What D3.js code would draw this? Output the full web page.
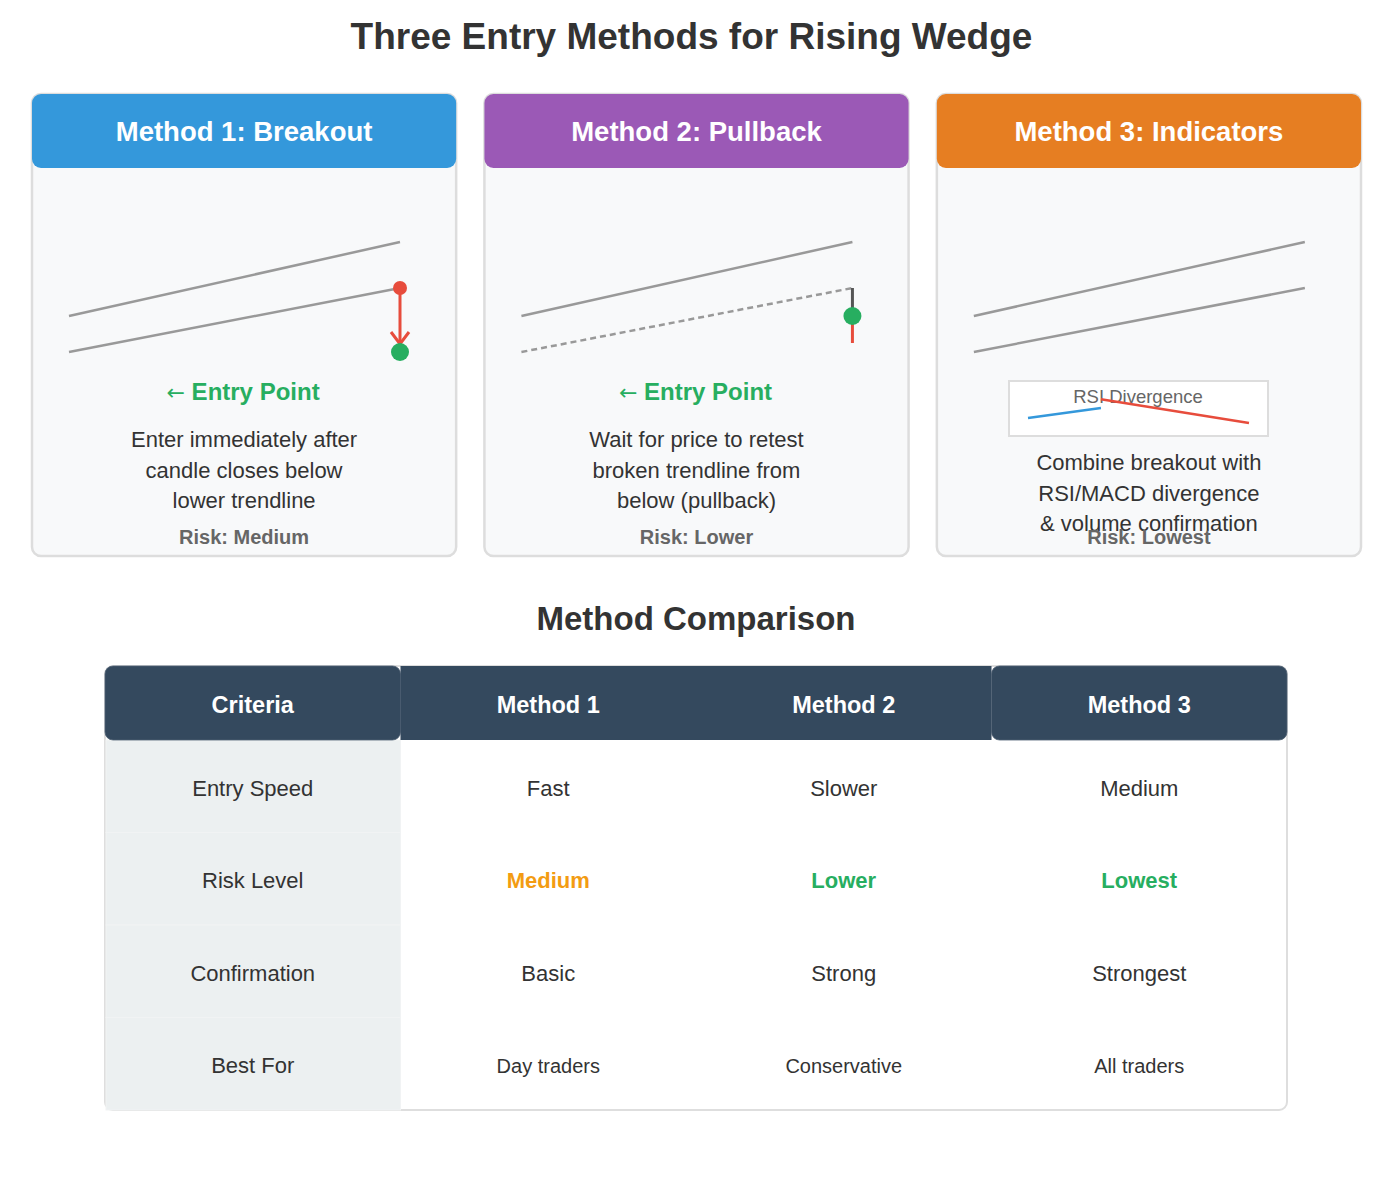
<!DOCTYPE html>
<html>
<head>
<meta charset="utf-8">
<script src="https://cdn.jsdelivr.net/npm/d3@7"></script>
<style>
  body { margin: 0; background: #fff; }
  text { font-family: "Liberation Sans", Arial, Helvetica, sans-serif; }
</style>
</head>
<body>
<div id="chart"></div>
<script>
// ---- data ----
var methodTitles = ["Method 1: Breakout", "Method 2: Pullback", "Method 3: Indicators"];
var methodColors = ["#3498db", "#9b59b6", "#e67e22"];
var methodTexts = [
    ["Enter immediately after", "candle closes below", "lower trendline"],
    ["Wait for price to retest", "broken trendline from", "below (pullback)"],
    ["Combine breakout with", "RSI/MACD divergence", "& volume confirmation"]
];
var methodRisks = ["Risk: Medium", "Risk: Lower", "Risk: Lowest"];
// wedge sketch, in diagram units (x: 0-100 time, y: price)
var upperTrend = [[0, 36], [100, 110]];
var lowerTrend = [[0, 0], [100, 64]];
var breakoutMove = [[100, 64], [100, 8]];
var breakoutEntry = [100, 0];
var pullbackRetest = [[100, 64], [100, 36]];
var pullbackDrop = [[100, 36], [100, 9]];
var pullbackEntry = [100, 36];
// RSI mini chart
var rsiLow = [[0, 31], [33, 49]];
var rsiHigh = [[33, 65], [100, 22]];

var tableColumns = ["Criteria", "Method 1", "Method 2", "Method 3"];
var criteria = ["Entry Speed", "Risk Level", "Confirmation", "Best For"];
var entrySpeed = ["Fast", "Slower", "Medium"];
var riskLevel = ["Medium", "Lower", "Lowest"];
var confirmation = ["Basic", "Strong", "Strongest"];
var bestFor = ["Day traders", "Conservative", "All traders"];
var riskColors = ["#f39c12", "#27ae60", "#27ae60"];

// ---- drawing ----
var W = 1383, H = 1185;
var svg = d3.select("#chart").append("svg")
    .attr("width", W).attr("height", H);

// open chevron arrow head, pointing along the path
svg.append("defs").append("marker")
    .attr("id", "arrowHead").attr("markerUnits", "userSpaceOnUse")
    .attr("viewBox", "0 0 16 22").attr("refX", 13).attr("refY", 11)
    .attr("markerWidth", 16).attr("markerHeight", 22).attr("orient", "auto")
    .append("path").attr("d", "M1,2 L13,11 L1,20")
    .attr("fill", "none").attr("stroke", "#e74c3c").attr("stroke-width", 3);

svg.append("text").attr("x", W/2).attr("y", 49).attr("text-anchor", "middle")
    .style("font-size", "37px").style("font-weight", "bold").style("fill", "#333")
    .text("Three Entry Methods for Rising Wedge");

var cardX = d3.scaleBand().domain(d3.range(3)).range([32, 1361]).paddingInner(0.0625);
var cardTop = 94, cardH = 462, headH = 74;
var wx = d3.scaleLinear().domain([0, 100]).range([37, 368]);
var wy = d3.scaleLinear().domain([0, 110]).range([352, 242]);

var cards = svg.selectAll("g.card").data(methodTitles).enter().append("g")
    .attr("class", "card")
    .attr("transform", function(d, i) { return "translate(" + cardX(i) + ",0)"; });

cards.append("rect").attr("x", 0).attr("y", cardTop)
    .attr("width", cardX.bandwidth()).attr("height", cardH).attr("rx", 9)
    .attr("fill", "#f8f9fa").attr("stroke", "#dddddd").attr("stroke-width", 2.5);
cards.append("rect").attr("x", 0).attr("y", cardTop)
    .attr("width", cardX.bandwidth()).attr("height", headH).attr("rx", 9)
    .attr("fill", function(d, i) { return methodColors[i]; });
cards.append("text").attr("x", cardX.bandwidth()/2).attr("y", 141)
    .attr("text-anchor", "middle").style("font-size", "27.5px").style("font-weight", "bold")
    .style("fill", "#fff").text(function(d) { return d; });

var wline = d3.line().x(function(p) { return wx(p[0]); }).y(function(p) { return wy(p[1]); });

cards.append("path").attr("d", wline(upperTrend))
    .attr("stroke", "#999").attr("stroke-width", 2.5).attr("fill", "none");
cards.append("path").attr("d", wline(lowerTrend))
    .attr("stroke", "#999").attr("stroke-width", 2.5).attr("fill", "none")
    .attr("stroke-dasharray", function(d, i) { return i === 1 ? "6,4" : null; });

// method 1: breakout arrow
var c1 = cards.filter(function(d, i) { return i === 0; });
c1.append("path").attr("d", wline(breakoutMove)).attr("stroke", "#e74c3c")
    .attr("stroke-width", 3).attr("fill", "none").attr("marker-end", "url(#arrowHead)");
c1.append("circle").attr("cx", wx(lowerTrend[1][0])).attr("cy", wy(lowerTrend[1][1]))
    .attr("r", 7).attr("fill", "#e74c3c");
c1.append("circle").attr("cx", wx(breakoutEntry[0])).attr("cy", wy(breakoutEntry[1]))
    .attr("r", 9).attr("fill", "#27ae60");

// method 2: pullback
var c2 = cards.filter(function(d, i) { return i === 1; });
c2.append("path").attr("d", wline(pullbackRetest)).attr("stroke", "#555")
    .attr("stroke-width", 3).attr("fill", "none");
c2.append("path").attr("d", wline(pullbackDrop)).attr("stroke", "#e74c3c")
    .attr("stroke-width", 3).attr("fill", "none");
c2.append("circle").attr("cx", wx(pullbackEntry[0])).attr("cy", wy(pullbackEntry[1]))
    .attr("r", 9).attr("fill", "#27ae60");

// entry point labels for method 1 and 2
var entryLbl = cards.filter(function(d, i) { return i < 2; }).append("text")
    .attr("x", cardX.bandwidth()/2 - 1).attr("y", 400).attr("text-anchor", "middle")
    .style("font-size", "24px").style("font-weight", "bold").style("fill", "#27ae60");
entryLbl.append("tspan").style("font-family", "'DejaVu Sans', sans-serif")
    .style("font-weight", "normal").style("font-size", "22px").text("\u2190");
entryLbl.append("tspan").text(" Entry Point");

// method 3: RSI box
var c3 = cards.filter(function(d, i) { return i === 2; });
var rx0 = 1009 - cardX(2);
c3.append("rect").attr("x", rx0).attr("y", 381).attr("width", 259).attr("height", 55)
    .attr("fill", "#fff").attr("stroke", "#ddd").attr("stroke-width", 2);
c3.append("text").attr("x", rx0 + 129).attr("y", 403).attr("text-anchor", "middle")
    .style("font-size", "18.5px").style("fill", "#666").text("RSI Divergence");
var rsx = d3.scaleLinear().domain([0, 100]).range([rx0 + 19, rx0 + 240]);
var rsy = d3.scaleLinear().domain([0, 100]).range([435, 380]);
var rline = d3.line().x(function(p) { return rsx(p[0]); }).y(function(p) { return rsy(p[1]); });
c3.append("path").attr("d", rline(rsiLow)).attr("stroke", "#3498db")
    .attr("stroke-width", 2.5).attr("fill", "none");
c3.append("path").attr("d", rline(rsiHigh)).attr("stroke", "#e74c3c")
    .attr("stroke-width", 2.5).attr("fill", "none");

// descriptions
cards.each(function(d, i) {
    var g = d3.select(this);
    var y0 = i === 2 ? 470 : 447;
    methodTexts[i].forEach(function(line, k) {
        g.append("text").attr("x", cardX.bandwidth()/2).attr("y", y0 + k*30.5)
            .attr("text-anchor", "middle").style("font-size", "22px").style("fill", "#333")
            .text(line);
    });
    g.append("text").attr("x", cardX.bandwidth()/2).attr("y", 544)
        .attr("text-anchor", "middle").style("font-size", "20px").style("font-weight", "bold")
        .style("fill", "#666").text(methodRisks[i]);
});

// ---- comparison table ----
svg.append("text").attr("x", 696).attr("y", 630).attr("text-anchor", "middle")
    .style("font-size", "33px").style("font-weight", "bold").style("fill", "#333")
    .text("Method Comparison");

var tLeft = 105, tRight = 1287, tTop = 666, tHead = 74, tBottom = 1110;
var colX = d3.scaleBand().domain(tableColumns).range([tLeft, tRight]);
var rowY = d3.scaleBand().domain(criteria).range([tTop + tHead, tBottom]);
var rows = [entrySpeed, riskLevel, confirmation, bestFor];

var table = svg.append("g");
table.append("rect").attr("x", tLeft).attr("y", tTop)
    .attr("width", tRight - tLeft).attr("height", tBottom - tTop).attr("rx", 8)
    .attr("fill", "#fff").attr("stroke", "#dedede").attr("stroke-width", 2);

// criteria column background
table.selectAll("rect.crit").data(criteria).enter().append("rect").attr("class", "crit")
    .attr("x", colX("Criteria") + 1).attr("y", function(d) { return rowY(d); })
    .attr("width", colX.bandwidth() - 1).attr("height", rowY.bandwidth())
    .attr("fill", "#ecf0f1").attr("stroke", "#f1f3f4").attr("stroke-width", 1);

table.selectAll("rect.head").data(tableColumns).enter().append("rect").attr("class", "head")
    .attr("x", function(d) { return colX(d); }).attr("y", tTop)
    .attr("width", colX.bandwidth()).attr("height", tHead)
    .attr("rx", function(d, i) { return (i === 0 || i === 3) ? 8 : 0; })
    .attr("fill", "#34495e")
    .attr("stroke", function(d, i) { return (i === 0 || i === 3) ? "#4f6174" : "none"; })
    .attr("stroke-width", 0.8);

table.selectAll("text.head").data(tableColumns).enter().append("text").attr("class", "head")
    .attr("x", function(d) { return colX(d) + colX.bandwidth()/2; }).attr("y", 713)
    .attr("text-anchor", "middle").style("font-size", "23.5px").style("font-weight", "bold")
    .style("fill", "#fff").text(function(d) { return d; });

criteria.forEach(function(c, r) {
    var yy = rowY(c) + rowY.bandwidth()/2 + 9.5;
    var small = (c === "Best For");
    table.append("text").attr("x", colX("Criteria") + colX.bandwidth()/2).attr("y", yy)
        .attr("text-anchor", "middle").style("font-size", "22px").style("fill", "#333").text(c);
    rows[r].forEach(function(v, k) {
        var isRisk = (c === "Risk Level");
        table.append("text").attr("x", colX(tableColumns[k+1]) + colX.bandwidth()/2).attr("y", yy)
            .attr("text-anchor", "middle")
            .style("font-size", small ? "20px" : "22px")
            .style("font-weight", isRisk ? "bold" : "normal")
            .style("fill", isRisk ? riskColors[k] : "#333").text(v);
    });
});
</script>
</body>
</html>
